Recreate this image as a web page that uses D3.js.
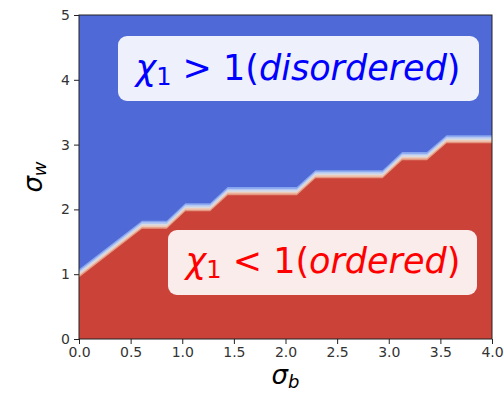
<!DOCTYPE html>
<html>
<head>
<meta charset="utf-8">
<script src="https://cdn.jsdelivr.net/npm/d3@7"></script>
<style>
  body { margin: 0; background: #fff; }
  text { font-family: "DejaVu Sans", sans-serif; }
</style>
</head>
<body>
<div id="chart"></div>
<script>
// critical sigma_w (chi_1 = 1) as a function of sigma_b
const sigmaB = [0.0, 0.61, 0.85, 1.03, 1.27, 1.44, 2.11, 2.29, 2.94, 3.13, 3.37, 3.56, 4.0];
const sigmaWCrit = [1.0, 1.75, 1.75, 2.02, 2.02, 2.27, 2.27, 2.53, 2.53, 2.81, 2.81, 3.07, 3.07];
const xTicks = [0, 0.5, 1, 1.5, 2, 2.5, 3, 3.5, 4];
const yTicks = [0, 1, 2, 3, 4, 5];
// contour bands around the boundary (offset in sigma_w, colour)
const bandOffsets = [0.075, 0.05, 0.025, 0.0, -0.025, -0.05];
const bandColors = ["#85a3ef", "#b4c8f3", "#d9dbe3", "#eecab9", "#e4977f", "#cb4239"];

const width = 504, height = 395;
const margin = { top: 15, right: 12, bottom: 56, left: 79 };
const w = width - margin.left - margin.right;
const h = height - margin.top - margin.bottom;

const svg = d3.select("#chart").append("svg")
    .attr("width", width)
    .attr("height", height);

const g = svg.append("g")
    .attr("transform", `translate(${margin.left},${margin.top})`);

const x = d3.scaleLinear().domain([0, 4]).range([0, w]);
const y = d3.scaleLinear().domain([0, 5]).range([h, 0]);

const pts = sigmaB.map((b, i) => ({ b: b, w: sigmaWCrit[i] }));

g.append("clipPath").attr("id", "clip")
    .append("rect").attr("width", w).attr("height", h);

const plot = g.append("g").attr("clip-path", "url(#clip)");

plot.append("rect")
    .attr("width", w)
    .attr("height", h)
    .attr("fill", "#4f69d6");

bandOffsets.forEach((off, i) => {
    const area = d3.area()
        .x(d => x(d.b))
        .y0(y(0))
        .y1(d => y(d.w + off));
    plot.append("path")
        .datum(pts)
        .attr("d", area)
        .attr("fill", bandColors[i]);
});

// axes
const xAxis = g.append("g")
    .attr("transform", `translate(0,${h})`)
    .call(d3.axisBottom(x).tickValues(xTicks).tickFormat(d3.format(".1f")).tickSize(5).tickPadding(3));
const yAxis = g.append("g")
    .call(d3.axisLeft(y).tickValues(yTicks).tickFormat(d3.format("d")).tickSize(5).tickPadding(4));

[xAxis, yAxis].forEach(a => {
    a.select(".domain").remove();
    a.selectAll("line").attr("stroke", "#222").attr("stroke-width", 1);
    a.selectAll("text")
        .attr("fill", "#333")
        .style("font-size", "14px")
        .style("font-family", "'DejaVu Sans', sans-serif");
});

g.append("rect")
    .attr("width", w)
    .attr("height", h)
    .attr("fill", "none")
    .attr("stroke", "#222")
    .attr("stroke-width", 1);

// annotation boxes
function label(cx, baseline, box, color, rel, word) {
    g.append("rect")
        .attr("x", box[0] - margin.left)
        .attr("y", box[1] - margin.top)
        .attr("width", box[2] - box[0])
        .attr("height", box[3] - box[1])
        .attr("rx", 9)
        .attr("fill", "#fff")
        .attr("fill-opacity", 0.9);
    const t = g.append("text")
        .attr("x", cx - margin.left)
        .attr("y", baseline - margin.top)
        .attr("text-anchor", "middle")
        .attr("fill", color)
        .style("font-size", "35px");
    t.append("tspan").style("font-style", "italic").text("χ");
    t.append("tspan").attr("dy", 5).style("font-size", "24px").text("1");
    t.append("tspan").attr("dy", -5).text(" " + rel + " 1(");
    t.append("tspan").style("font-style", "italic").text(word);
    t.append("tspan").text(")");
}

label(298, 80, [118, 36, 479, 101], "#0000ff", ">", "disordered");
label(323, 273, [168, 230, 477, 295], "#ff0000", "<", "ordered");

// axis titles
const xt = svg.append("text")
    .attr("x", margin.left + w / 2)
    .attr("y", 384)
    .attr("text-anchor", "middle")
    .attr("fill", "#000")
    .style("font-size", "26px");
xt.append("tspan").style("font-style", "italic").text("σ");
xt.append("tspan").attr("dy", 4).style("font-style", "italic").style("font-size", "18px").text("b");

const yt = svg.append("text")
    .attr("transform", `translate(42,${margin.top + h / 2}) rotate(-90)`)
    .attr("text-anchor", "middle")
    .attr("fill", "#000")
    .style("font-size", "26px");
yt.append("tspan").style("font-style", "italic").text("σ");
yt.append("tspan").attr("dy", 4).style("font-style", "italic").style("font-size", "18px").text("w");
</script>
</body>
</html>
